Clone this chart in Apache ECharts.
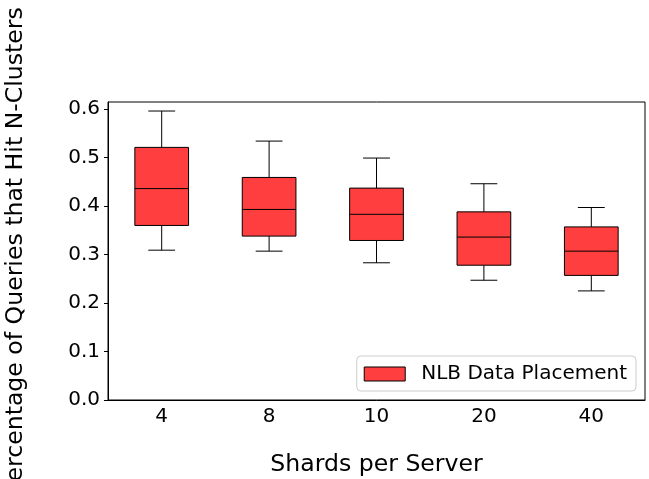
<!DOCTYPE html>
<html>
<head>
<meta charset="utf-8">
<script src="https://cdn.jsdelivr.net/npm/echarts@6/dist/echarts.min.js"></script>
<style>
  html, body { margin: 0; padding: 0; background: #fff; }
  #main { width: 649px; height: 479px; }
</style>
</head>
<body>
<div id="main"></div>
<script>
// data
var categories = ['4', '8', '10', '20', '40'];
var whiskerLow = [0.309, 0.307, 0.283, 0.247, 0.225];
var q1 = [0.360, 0.338, 0.329, 0.278, 0.257];
var median = [0.436, 0.393, 0.383, 0.336, 0.307];
var q3 = [0.521, 0.459, 0.437, 0.388, 0.357];
var whiskerHigh = [0.596, 0.534, 0.499, 0.446, 0.397];
var yTicks = [0, 0.1, 0.2, 0.3, 0.4, 0.5, 0.6];

var seriesName = 'NLB Data Placement';
var boxColor = '#ff3f3f';
var font = 'DejaVu Sans';

var boxData = categories.map(function (c, i) {
    return [i, whiskerLow[i], q1[i], median[i], q3[i], whiskerHigh[i]];
});

function renderBox(params, api) {
    var x = api.value(0);
    var band = api.size([1, 0])[0];
    var hw = band * 0.25;   // half box width
    var cw = band * 0.125;  // half cap width
    var pLow = api.coord([x, api.value(1)]);
    var pQ1 = api.coord([x, api.value(2)]);
    var pMed = api.coord([x, api.value(3)]);
    var pQ3 = api.coord([x, api.value(4)]);
    var pHigh = api.coord([x, api.value(5)]);
    var cx = pQ1[0];
    var lineStyle = { stroke: '#000', lineWidth: 1, fill: null };
    return {
        type: 'group',
        children: [
            { type: 'line', shape: { x1: cx, y1: pQ1[1], x2: cx, y2: pLow[1] }, style: lineStyle },
            { type: 'line', shape: { x1: cx - cw, y1: pLow[1], x2: cx + cw, y2: pLow[1] }, style: lineStyle },
            { type: 'line', shape: { x1: cx, y1: pQ3[1], x2: cx, y2: pHigh[1] }, style: lineStyle },
            { type: 'line', shape: { x1: cx - cw, y1: pHigh[1], x2: cx + cw, y2: pHigh[1] }, style: lineStyle },
            {
                type: 'rect',
                shape: { x: cx - hw, y: pQ3[1], width: hw * 2, height: pQ1[1] - pQ3[1] },
                style: { fill: boxColor, stroke: '#000', lineWidth: 1 }
            },
            { type: 'line', shape: { x1: cx - hw, y1: pMed[1], x2: cx + hw, y2: pMed[1] }, style: lineStyle }
        ]
    };
}

var myChart = echarts.init(document.getElementById('main'));

var option = {
    animation: false,
    textStyle: { fontFamily: font },
    grid: {
        left: 108,
        right: 4,
        top: 102,
        bottom: 79,
        containLabel: false,
        outerBoundsMode: 'none',
        show: true,
        borderColor: '#000',
        borderWidth: 1
    },
    legend: {
        data: [{
            name: seriesName,
            icon: 'rect',
            itemStyle: { color: boxColor, borderColor: '#000', borderWidth: 1 }
        }],
        right: 13,
        bottom: 88,
        itemWidth: 41,
        itemHeight: 14,
        padding: [8, 9, 7, 7],
        borderColor: '#cccccc',
        borderWidth: 1,
        borderRadius: 4,
        backgroundColor: '#fff',
        textStyle: { fontFamily: font, fontSize: 20, color: '#000', padding: [0, 0, 0, 11] }
    },
    xAxis: {
        type: 'category',
        data: categories,
        boundaryGap: true,
        name: 'Shards per Server',
        nameLocation: 'middle',
        nameGap: 53,
        nameTextStyle: { fontFamily: font, fontSize: 23.6, color: '#000' },
        axisLine: { lineStyle: { color: '#000', width: 1 } },
        axisTick: { alignWithLabel: true, length: 4, lineStyle: { color: '#000' } },
        axisLabel: { fontFamily: font, fontSize: 20, color: '#000', margin: 7 },
        splitLine: { show: false }
    },
    yAxis: {
        type: 'value',
        min: 0,
        max: 0.6146,
        name: 'Percentage of Queries that Hit N-Clusters',
        nameLocation: 'middle',
        nameRotate: 90,
        nameGap: 80,
        nameTextStyle: { fontFamily: font, fontSize: 23.6, color: '#000' },
        axisLine: { show: true, lineStyle: { color: '#000', width: 1 } },
        axisTick: { show: true, length: 4, customValues: yTicks, lineStyle: { color: '#000' } },
        axisLabel: {
            fontFamily: font,
            fontSize: 20,
            color: '#000',
            margin: 8,
            customValues: yTicks,
            formatter: function (v) { return v.toFixed(1); }
        },
        splitLine: { show: false }
    },
    series: [{
        name: seriesName,
        type: 'custom',
        renderItem: renderBox,
        itemStyle: { color: boxColor, borderColor: '#000' },
        encode: { x: 0, y: [1, 2, 3, 4, 5] },
        data: boxData
    }]
};

myChart.setOption(option);
</script>
</body>
</html>
